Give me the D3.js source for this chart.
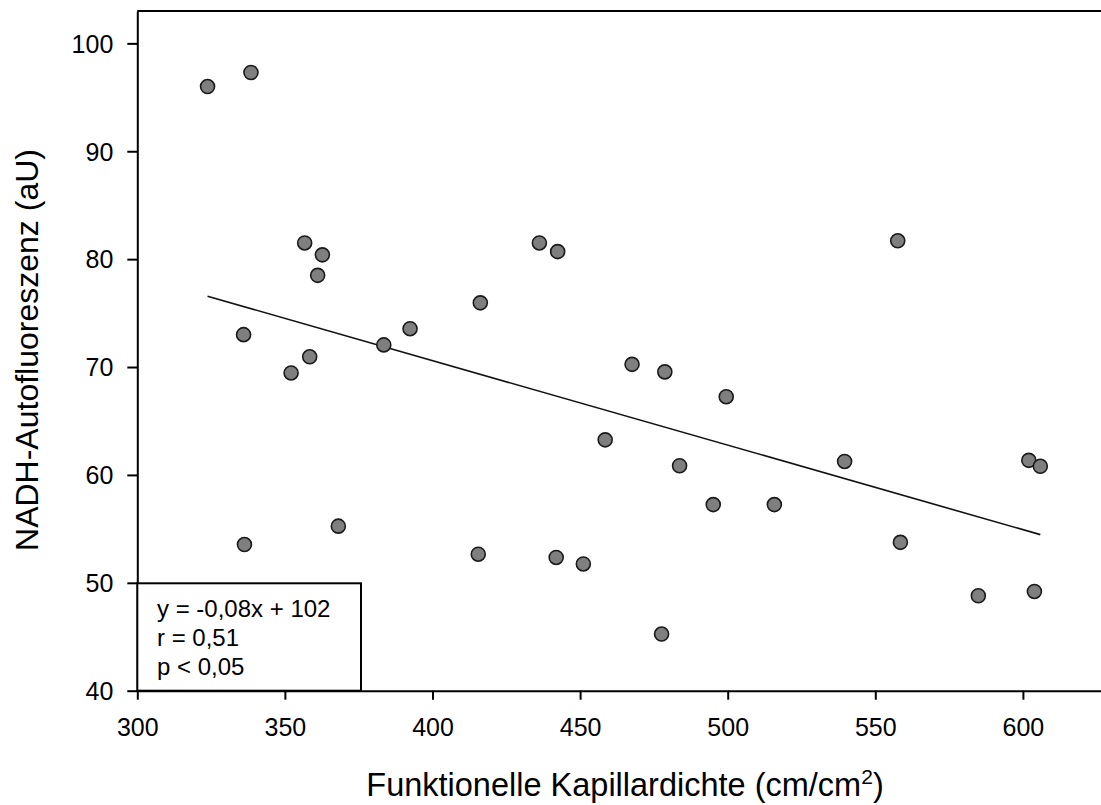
<!DOCTYPE html>
<html>
<head>
<meta charset="utf-8">
<script src="https://cdn.jsdelivr.net/npm/d3@7"></script>
<style>
  html, body { margin: 0; padding: 0; background: #fff; }
  svg { display: block; font-family: "Liberation Sans", Arial, Helvetica, sans-serif; }
</style>
</head>
<body>
<svg id="chart" width="1101" height="805"></svg>
<script>
// Functional capillary density (cm/cm²) vs. NADH autofluorescence (aU)
const kapillardichte = [
  323.8, 338.5, 356.7, 362.7, 361.1, 336.0, 358.4, 352.1, 383.5, 392.4,
  336.3, 368.1, 416.2, 436.2, 442.4, 467.6, 478.7, 499.5, 458.5, 483.7,
  415.5, 441.9, 451.1, 495.1, 477.6, 557.6, 539.6, 602.0, 605.9, 515.8,
  558.5, 584.9, 603.9
];
const nadh = [
  96.0, 97.3, 81.5, 80.4, 78.5, 73.0, 70.95, 69.45, 72.05, 73.55,
  53.55, 55.25, 75.95, 81.5, 80.7, 70.25, 69.55, 67.25, 63.25, 60.85,
  52.65, 52.35, 51.75, 57.25, 45.25, 81.7, 61.25, 61.35, 60.8, 57.25,
  53.75, 48.8, 49.2
];
const xTicks = [300, 350, 400, 450, 500, 550, 600];
const yTicks = [40, 50, 60, 70, 80, 90, 100];
const statsLines = ["y = -0,08x + 102", "r = 0,51", "p < 0,05"];

const points = kapillardichte.map((x, i) => ({ x, y: nadh[i] }));

const svg = d3.select("#chart");
const plotLeft = 137.3, plotTop = 11, plotBottom = 690.7;

const x = d3.scaleLinear().domain([300, 627]).range([plotLeft, plotLeft + 327 * 2.952]);
const y = d3.scaleLinear().domain([40, 103]).range([plotBottom, plotTop]);

// least-squares regression line through the measurements
const mx = d3.mean(points, d => d.x), my = d3.mean(points, d => d.y);
const sxy = d3.sum(points, d => (d.x - mx) * (d.y - my));
const sxx = d3.sum(points, d => (d.x - mx) ** 2);
const slope = sxy / sxx, intercept = my - slope * mx;
const [xmin, xmax] = d3.extent(points, d => d.x);

// frame top edge
svg.append("line")
  .attr("x1", plotLeft).attr("x2", 1101).attr("y1", plotTop).attr("y2", plotTop)
  .attr("stroke", "#000").attr("stroke-width", 2);

// axes
const xAxis = svg.append("g")
  .attr("transform", `translate(0,${plotBottom})`)
  .call(d3.axisBottom(x).tickValues(xTicks).tickSize(9).tickSizeOuter(0).tickPadding(19));
const yAxis = svg.append("g")
  .attr("transform", `translate(${plotLeft},0)`)
  .call(d3.axisLeft(y).tickValues(yTicks).tickSize(10).tickSizeOuter(0).tickPadding(14));

[xAxis, yAxis].forEach(g => {
  g.select(".domain").attr("stroke", "#000").attr("stroke-width", 2);
  g.selectAll(".tick line").attr("stroke", "#000").attr("stroke-width", 2);
  g.selectAll(".tick text").attr("fill", "#000").attr("font-size", 25)
    .attr("font-family", "'Liberation Sans', Arial, sans-serif");
});
xAxis.selectAll(".tick text").attr("dy", "0.71em");
yAxis.selectAll(".tick text").attr("dy", "0.35em");

// regression line
svg.append("line")
  .attr("x1", x(xmin)).attr("y1", y(slope * xmin + intercept))
  .attr("x2", x(xmax)).attr("y2", y(slope * xmax + intercept))
  .attr("stroke", "#111").attr("stroke-width", 1.6);

// data points
svg.append("g").selectAll("circle")
  .data(points)
  .join("circle")
  .attr("cx", d => x(d.x))
  .attr("cy", d => y(d.y))
  .attr("r", 7)
  .attr("fill", "#7f7f7f")
  .attr("stroke", "#1a1a1a")
  .attr("stroke-width", 1.6);

// statistics box
const box = svg.append("g");
box.append("rect")
  .attr("x", plotLeft).attr("y", 583.3)
  .attr("width", 361 - plotLeft).attr("height", plotBottom - 583.3)
  .attr("fill", "#fff").attr("stroke", "#000").attr("stroke-width", 2);
box.selectAll("text")
  .data(statsLines)
  .join("text")
  .attr("x", 157)
  .attr("y", (d, i) => 617 + i * 29)
  .attr("font-size", 24)
  .attr("fill", "#000")
  .text(d => d);

// axis titles
const xt = svg.append("text")
  .attr("x", 625).attr("y", 796)
  .attr("text-anchor", "middle")
  .attr("font-size", 32.5)
  .attr("fill", "#000");
xt.append("tspan").text("Funktionelle Kapillardichte (cm/cm");
xt.append("tspan").attr("font-size", 21).attr("dy", -12).text("2");
xt.append("tspan").attr("dy", 12).text(")");

svg.append("text")
  .attr("transform", "translate(38,350) rotate(-90)")
  .attr("text-anchor", "middle")
  .attr("font-size", 32)
  .attr("fill", "#000")
  .text("NADH-Autofluoreszenz (aU)");
</script>
</body>
</html>
